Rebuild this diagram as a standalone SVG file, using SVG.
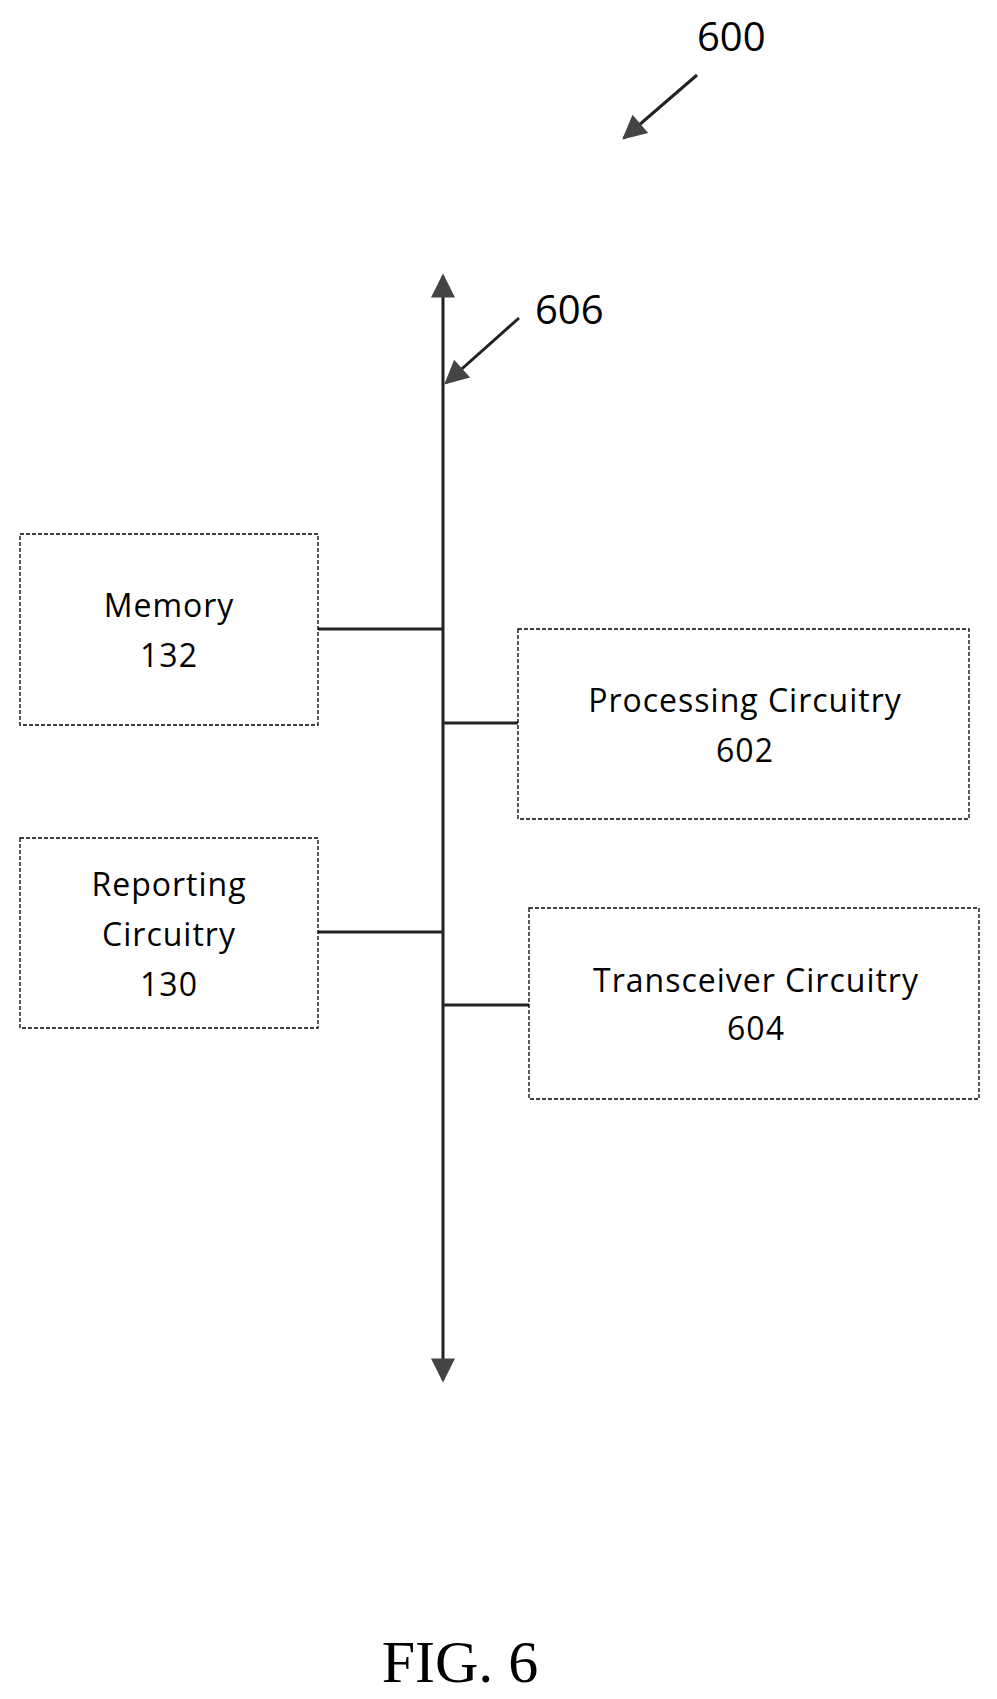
<svg xmlns="http://www.w3.org/2000/svg" width="997" height="1699" viewBox="0 0 997 1699">
<style>
.box{fill:#fff;stroke:#000;stroke-width:1.3;stroke-dasharray:4 2}
.t{font-family:"Open Sans","Liberation Sans",sans-serif;font-size:32px;letter-spacing:1px;text-anchor:middle;fill:#000}
.ln{stroke:#222;stroke-width:3;fill:none}
.ref{font-family:"Open Sans","Liberation Sans",sans-serif;font-size:40px;fill:#000}
</style>
<defs>
<marker id="ah" viewBox="0 0 10 10" refX="9" refY="5" markerWidth="13" markerHeight="8" orient="auto-start-reverse" markerUnits="strokeWidth"><path d="M0,0 L10,5 L0,10 Z" fill="#444"/></marker>
<marker id="ah2" viewBox="0 0 10 10" refX="9" refY="5" markerWidth="11" markerHeight="8" orient="auto" markerUnits="strokeWidth"><path d="M0,0 L10,5 L0,10 Z" fill="#444"/></marker>
</defs>
<g id="connectors">
<line class="ln" x1="443" y1="276" x2="443" y2="1380" marker-start="url(#ah)" marker-end="url(#ah)"/>
<line class="ln" x1="318" y1="629" x2="443" y2="629"/>
<line class="ln" x1="443" y1="723" x2="518" y2="723"/>
<line class="ln" x1="318" y1="932" x2="443" y2="932"/>
<line class="ln" x1="443" y1="1005" x2="529" y2="1005"/>
<line class="ln" x1="697" y1="75" x2="624" y2="138" marker-end="url(#ah2)"/>
<line class="ln" x1="519" y1="318" x2="446" y2="383" marker-end="url(#ah2)"/>
</g>
<g id="memory"><rect class="box" x="20" y="534" width="298" height="191"/><text class="t" x="169" y="617">Memory</text><text class="t" x="169" y="667">132</text></g>
<g id="processing"><rect class="box" x="518" y="629" width="451" height="190"/><text class="t" x="745" y="712">Processing Circuitry</text><text class="t" x="745" y="762">602</text></g>
<g id="reporting"><rect class="box" x="20" y="838" width="298" height="190"/><text class="t" x="169" y="896">Reporting</text><text class="t" x="169" y="946">Circuitry</text><text class="t" x="169" y="996">130</text></g>
<g id="transceiver"><rect class="box" x="529" y="908" width="450" height="191"/><text class="t" x="756" y="992">Transceiver Circuitry</text><text class="t" x="756" y="1040">604</text></g>
<text class="ref" x="697" y="51">600</text>
<text class="ref" x="535" y="324">606</text>
<text x="460" y="1682" font-family="Liberation Serif,serif" font-size="60" text-anchor="middle">FIG. 6</text>
</svg>
